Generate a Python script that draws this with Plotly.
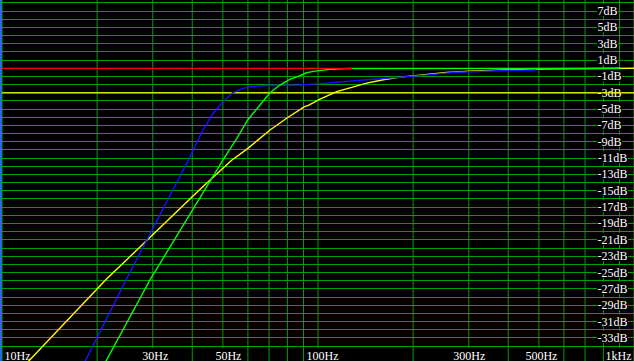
import numpy as np
import plotly.graph_objects as go

# ---------------- data ----------------
blue_freq = [17, 18.3, 24.7, 34.8, 38.9, 42.9, 46.6, 50, 53.7, 57.8, 60.9, 68.7, 75.8,
             87.7, 101.5, 111.8, 126.3, 142.6, 160.9, 181.8, 210, 231.7, 268, 368, 430, 492]
blue_db = [-38.0, -35.9, -25.9, -14.9, -11.25, -7.8, -5.5, -4.1, -3.0, -2.45, -2.25, -2.1, -2.08,
           -2.05, -1.88, -1.72, -1.52, -1.4, -1.24, -1.12, -0.9, -0.74, -0.52, -0.3, -0.27, -0.22]

green_freq = [20, 21.3, 29.4, 43.6, 50, 55.3, 60, 65.5, 70.5, 75.8, 81.4, 87.7, 92.1, 96.6,
              101.5, 108.9, 125, 900]
green_db = [-37.8, -35.9, -25.9, -14.9, -11.25, -8.6, -6.3, -4.5, -3.0, -2.05, -1.35, -0.9, -0.55,
            -0.38, -0.26, -0.13, -0.03, 0.0]

yellow_freq = [11, 12.1, 16.0, 21.3, 42.1, 53.3, 60, 70.5, 80, 90.6, 93.2, 101.5, 114.6, 126.3,
               142.6, 160.9, 181.8, 203, 226, 255, 303, 350, 420, 469, 1000]
yellow_db = [-37.6, -35.9, -30.9, -25.9, -14.9, -11.25, -9.8, -7.55, -6.05, -4.7, -4.53, -3.78,
             -2.86, -2.38, -1.81, -1.4, -1.08, -0.9, -0.68, -0.5, -0.35, -0.25, -0.18, -0.1, 0.0]

red_freq = [10, 128]
red_db = [0.0, 0.0]

ref_freq = [10, 1000]
ref_db = [-3.0, -3.0]

grid_freqs = [10, 20, 30, 40, 50, 60, 70, 80, 90, 100, 200, 300, 400, 500, 600, 700, 800, 900, 1000]
grid_db = list(range(-34, 9))

x_tick_vals = [10, 30, 50, 100, 300, 500, 1000]
x_tick_text = ["10Hz", "30Hz", "50Hz", "100Hz", "300Hz", "500Hz", "1kHz"]
y_tick_vals = list(range(7, -34, -2))
y_tick_text = [f"{v}dB" for v in y_tick_vals]

# ---------------- figure ----------------
W, H = 634, 361
X0_PX, DEC_PX = 2.0, 316.0          # pixel of 10 Hz, pixels per decade
Y0_PX, DB_PX = 68.3, 8.168          # pixel of 0 dB, pixels per dB
FS = 12
EM = {"0": 500, "1": 500, "2": 500, "3": 500, "4": 500, "5": 500, "6": 500, "7": 500,
      "8": 500, "9": 500, "-": 333, "d": 500, "B": 667, "H": 722, "z": 444, "k": 500}


def text_w(t):
    return sum(EM.get(c, 500) for c in t) * FS / 1000.0


def px_to_f(px):
    return 10.0 * 10 ** ((px - X0_PX) / DEC_PX)


def py_to_db(py):
    return (Y0_PX - py) / DB_PX


fig = go.Figure()
fig.add_trace(go.Scatter(x=ref_freq, y=ref_db, mode="lines",
                         line=dict(color="#ffff00", width=1.2), hoverinfo="skip"))
fig.add_trace(go.Scatter(x=yellow_freq, y=yellow_db, mode="lines",
                         line=dict(color="#ffff00", width=1.4), hoverinfo="skip"))
fig.add_trace(go.Scatter(x=blue_freq, y=blue_db, mode="lines",
                         line=dict(color="#1414ff", width=1.4), hoverinfo="skip"))
fig.add_trace(go.Scatter(x=green_freq, y=green_db, mode="lines",
                         line=dict(color="#00ff00", width=1.4), hoverinfo="skip"))
fig.add_trace(go.Scatter(x=red_freq, y=red_db, mode="lines",
                         line=dict(color="#ff0000", width=1.2), hoverinfo="skip"))

grid_color = "#00a000"
x_lo = 1 - X0_PX / DEC_PX
x_hi = x_lo + W / DEC_PX
fig.update_xaxes(type="log", range=[x_lo, x_hi], showticklabels=False,
                 showgrid=False, zeroline=False, showline=False, ticks="", fixedrange=True)
y_top = Y0_PX / DB_PX
y_bot = -(H - Y0_PX) / DB_PX
fig.update_yaxes(range=[y_bot, y_top], tickvals=grid_db, showticklabels=False,
                 showgrid=True, gridcolor=grid_color, gridwidth=1, zeroline=False,
                 showline=False, ticks="", fixedrange=True)

font = dict(family="Liberation Serif, Times New Roman, serif", size=FS, color="white")
shapes = []

# vertical grid lines (drawn between the horizontal grid and the curves)
for f in grid_freqs:
    shapes.append(dict(type="line", xref="x", yref="paper", x0=f, x1=f, y0=0, y1=1,
                       line=dict(color=grid_color, width=1), layer="between"))


def label_box(x0, x1, y0, y1, t):
    # pixel box -> data coordinates, black background drawn between grid and curves
    shapes.append(dict(type="rect", xref="x", yref="y",
                       x0=px_to_f(x0), x1=px_to_f(x1), y0=py_to_db(y1), y1=py_to_db(y0),
                       fillcolor="black", line=dict(width=0), layer="between",
                       label=dict(text=t, font=font, textposition="middle center", padding=0)))


for v, t in zip(y_tick_vals, y_tick_text):
    cy = Y0_PX - DB_PX * v - 1
    w = text_w(t)
    label_box(597, 597 + w + 1, cy - 6, cy + 6, t)

x_shifts = [0, 2, 5, 4, 0, 2, 0]
for v, t, s in zip(x_tick_vals, x_tick_text, x_shifts):
    w = text_w(t)
    if v == x_tick_vals[0]:
        a = 4
    elif v == x_tick_vals[-1]:
        a = 631 - w
    else:
        a = X0_PX + DEC_PX * np.log10(v / 10.0) + s - w / 2
    label_box(a, a + w + 1, 348, 361, t)

shapes.append(dict(type="rect", xref="paper", yref="paper", x0=0, x1=2 / W, y0=0, y1=1,
                   fillcolor="#1f6fd6", line=dict(width=0), layer="above"))

fig.update_layout(
    width=W, height=H, autosize=False,
    margin=dict(l=0, r=0, t=0, b=0, pad=0),
    paper_bgcolor="black", plot_bgcolor="black",
    showlegend=False,
    shapes=shapes,
)

fig.write_html("out.html", config={"displayModeBar": False})
